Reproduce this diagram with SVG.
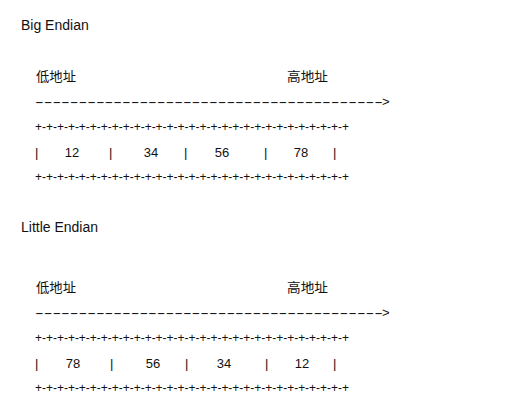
<svg xmlns="http://www.w3.org/2000/svg" width="520" height="412" viewBox="0 0 520 412">
<style>
text{font-family:"Liberation Sans","Noto Sans CJK SC",sans-serif;fill:#111;}
.t{font-size:14px;}
.b{font-size:13px;}
.p{font-size:12px;}
.c{text-anchor:middle;}
</style>
<rect width="520" height="412" fill="#fff"/>
<g id="big-endian">
<text class="t" x="21" y="30">Big Endian</text>
<text class="b" x="36" y="81" textLength="40" lengthAdjust="spacingAndGlyphs">低地址</text>
<text class="b" x="287" y="81" textLength="41" lengthAdjust="spacingAndGlyphs">高地址</text>
<text class="b" x="35" y="106" textLength="348" lengthAdjust="spacingAndGlyphs">----------------------------------------</text>
<text class="b" x="382" y="106">&gt;</text>
<text class="p" x="35" y="131" textLength="314" lengthAdjust="spacing">+-+-+-+-+-+-+-+-+-+-+-+-+-+-+-+-+-+-+-+-+-+-+-+-+-+-+-+-+</text>
<text class="b" y="157"><tspan x="35">|</tspan><tspan x="109">|</tspan><tspan x="184">|</tspan><tspan x="264">|</tspan><tspan x="333">|</tspan></text>
<text class="b c" y="157"><tspan x="72">12</tspan><tspan x="151">34</tspan><tspan x="222">56</tspan><tspan x="301">78</tspan></text>
<text class="p" x="35" y="181" textLength="314" lengthAdjust="spacing">+-+-+-+-+-+-+-+-+-+-+-+-+-+-+-+-+-+-+-+-+-+-+-+-+-+-+-+-+</text>
</g>
<g id="little-endian">
<text class="t" x="21" y="232">Little Endian</text>
<text class="b" x="36" y="292" textLength="40" lengthAdjust="spacingAndGlyphs">低地址</text>
<text class="b" x="287" y="292" textLength="41" lengthAdjust="spacingAndGlyphs">高地址</text>
<text class="b" x="35" y="317" textLength="348" lengthAdjust="spacingAndGlyphs">----------------------------------------</text>
<text class="b" x="382" y="317">&gt;</text>
<text class="p" x="35" y="342" textLength="314" lengthAdjust="spacing">+-+-+-+-+-+-+-+-+-+-+-+-+-+-+-+-+-+-+-+-+-+-+-+-+-+-+-+-+</text>
<text class="b" y="368"><tspan x="35">|</tspan><tspan x="110">|</tspan><tspan x="185">|</tspan><tspan x="265">|</tspan><tspan x="333">|</tspan></text>
<text class="b c" y="368"><tspan x="73">78</tspan><tspan x="153">56</tspan><tspan x="224">34</tspan><tspan x="302">12</tspan></text>
<text class="p" x="35" y="392" textLength="314" lengthAdjust="spacing">+-+-+-+-+-+-+-+-+-+-+-+-+-+-+-+-+-+-+-+-+-+-+-+-+-+-+-+-+</text>
</g>
</svg>
